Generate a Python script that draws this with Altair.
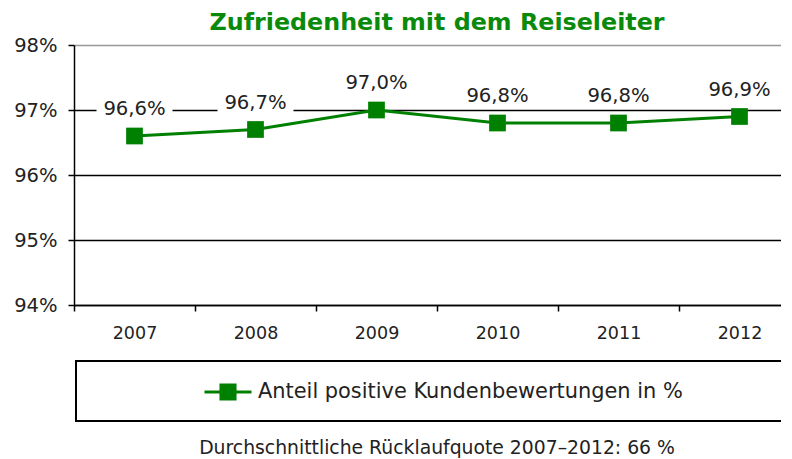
import altair as alt
import pandas as pd

years = ["2007", "2008", "2009", "2010", "2011", "2012"]
values = [0.966, 0.967, 0.970, 0.968, 0.968, 0.969]
labels = ["96,6%", "96,7%", "97,0%", "96,8%", "96,8%", "96,9%"]
series_name = "Anteil positive Kundenbewertungen in %"
title_text = "Zufriedenheit mit dem Reiseleiter"
footer_text = "Durchschnittliche Rücklaufquote 2007–2012: 66 %"
y_ticks = [0.94, 0.95, 0.96, 0.97, 0.98]

GREEN = "#008000"
FONT = "DejaVu Sans"

df = pd.DataFrame({"year": years, "value": values, "label": labels, "series": series_name})
one = pd.DataFrame({"t": [footer_text]})

x_enc = alt.X(
    "year:O",
    scale=alt.Scale(type="band", paddingInner=0, paddingOuter=0),
    axis=alt.Axis(
        title=None, labelAngle=0, tickBand="extent", labelFontSize=17.5, labelFont=FONT,
        labelColor="#222", domainColor="black", domainWidth=1.5, tickColor="black",
        tickWidth=1.5, tickSize=6, labelPadding=13, grid=False,
    ),
)
y_enc = alt.Y(
    "value:Q",
    scale=alt.Scale(domain=[0.94, 0.98], nice=False, zero=False),
    axis=alt.Axis(
        title=None, values=y_ticks, format=".0%", labelFontSize=19.5, labelFont=FONT,
        labelColor="#222", domainColor="black", domainWidth=1.5, tickColor="black",
        tickWidth=1.5, tickSize=6, labelPadding=11, minExtent=66,
        gridColor=alt.condition("datum.value >= 0.98", alt.value("#999999"), alt.value("black")),
        gridWidth=1.3,
    ),
)

base = alt.Chart(df)

box_path = "M-1,-0.263L1,-0.263L1,0.263L-1,0.263Z"
boxes = base.mark_point(
    shape=box_path, size=5776, filled=True, color="white", opacity=1, strokeWidth=0, yOffset=-27
).encode(x=x_enc, y=y_enc)

texts = base.mark_text(
    fontSize=19.6, font=FONT, color="#222", baseline="alphabetic", dy=-21
).encode(x=x_enc, y=y_enc, text="label:N")

legend_symbol = "M-1,0L1,0M-0.3,-0.3L0.3,-0.3L0.3,0.3L-0.3,0.3Z"
line = base.mark_line(strokeWidth=3).encode(
    x=x_enc,
    y=y_enc,
    color=alt.Color(
        "series:N",
        scale=alt.Scale(range=[GREEN]),
        legend=alt.Legend(
            title=None, orient="none", legendX=129, legendY=322, padding=0,
            symbolType=legend_symbol, symbolSize=2209, symbolStrokeWidth=3,
            symbolFillColor=GREEN, symbolStrokeColor=GREEN, symbolOpacity=1,
            labelFontSize=20.9, labelFont=FONT, labelColor="#222", labelOffset=5,
            labelLimit=700,
        ),
    ),
)
points = base.mark_square(size=280, color=GREEN, opacity=1, filled=True).encode(x=x_enc, y=y_enc)

legend_box = alt.Chart(one).mark_rect(fill="transparent", stroke="black", strokeWidth=2).encode(
    x=alt.value(2), x2=alt.value(730), y=alt.value(316), y2=alt.value(376)
)
footer = alt.Chart(one).mark_text(
    fontSize=18.8, font=FONT, color="#222", baseline="alphabetic"
).encode(text="t:N", x=alt.value(363), y=alt.value(409))

chart = alt.layer(boxes, texts, line, points, legend_box, footer).properties(
    width=726,
    height=260,
    padding={"left": 0, "top": 3, "right": -24, "bottom": 0},
    title=alt.TitleParams(
        title_text, fontSize=23.8, font=FONT, fontWeight="bold", color="#0a8a0a",
        anchor="middle", offset=0,
    ),
).configure_view(stroke=None)

chart.save("out.html", embed_options={"renderer": "svg", "actions": False})
